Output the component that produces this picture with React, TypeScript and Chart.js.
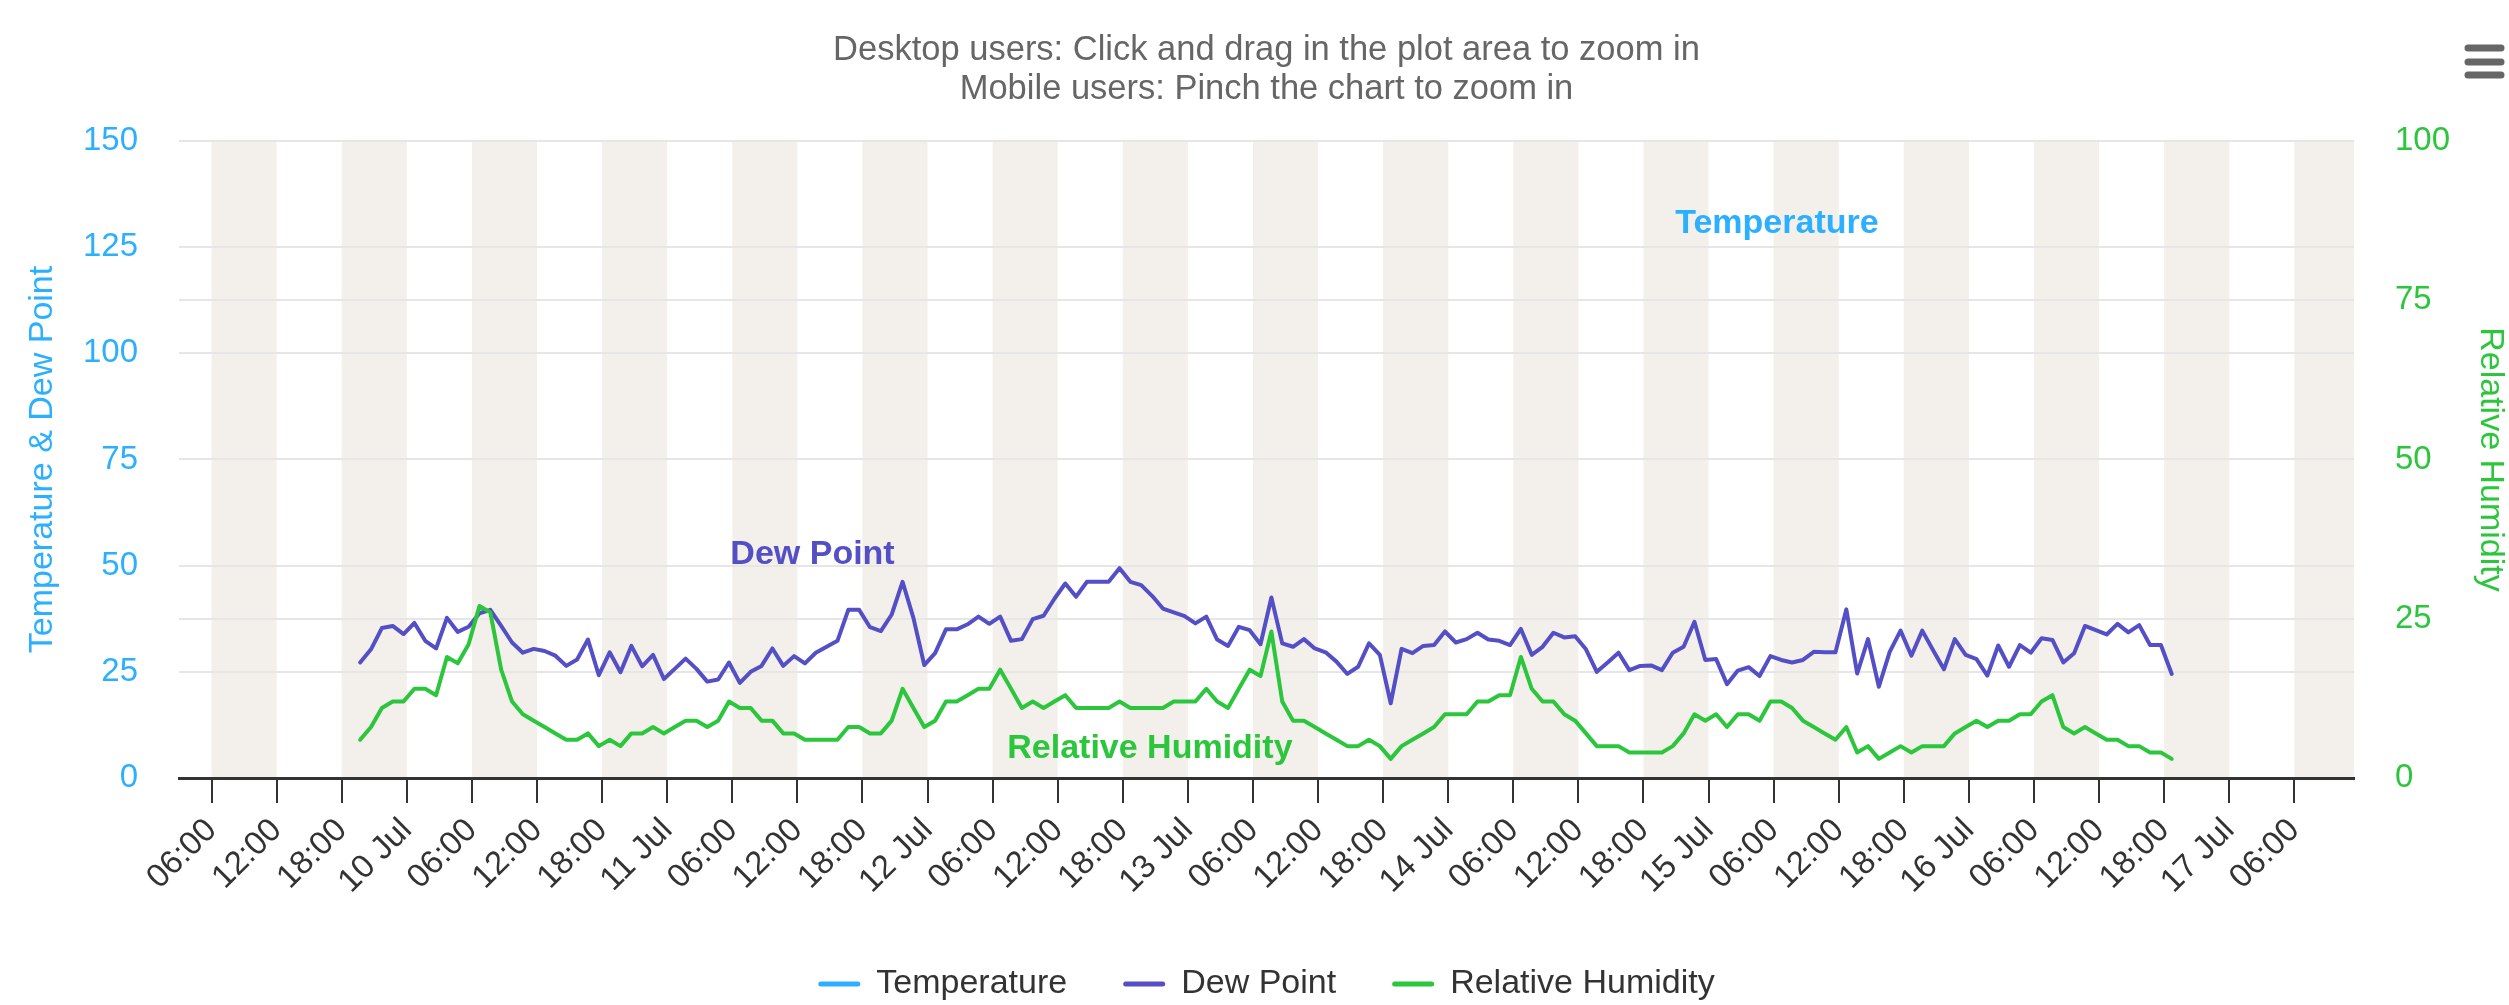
import React, { useEffect, useRef } from "react";
import { Chart, registerables } from "chart.js";

Chart.register(...registerables);

const FONT = "'Liberation Sans', Arial, Helvetica, sans-serif";

const titleLines = [
  "Desktop users: Click and drag in the plot area to zoom in",
  "Mobile users: Pinch the chart to zoom in",
];

const seriesNames = ["Temperature", "Dew Point", "Relative Humidity"];
const seriesColors = ["#2caffe", "#544fc5", "#2bc63c"];

// hours counted from 10 Jul 00:00; first reading 9 Jul 19:42, hourly after that
const firstReadingHour = -4.3;

const temperature: number[] = [];

const dewPoint = [
  27.2, 30.3, 35.3, 35.8, 33.9, 36.5, 32.3, 30.5, 37.7, 34.4,
  35.6, 38.8, 39.6, 35.8, 31.9, 29.5, 30.4, 29.9, 28.8, 26.4,
  27.9, 32.6, 24.2, 29.6, 24.9, 31.1, 26.3, 29.0, 23.3, 25.7,
  28.1, 25.7, 22.7, 23.2, 27.2, 22.4, 25.0, 26.4, 30.5, 26.4,
  28.7, 27.0, 29.5, 30.9, 32.3, 39.6, 39.6, 35.5, 34.6, 38.5,
  46.2, 37.7, 26.6, 29.4, 35.0, 35.0, 36.2, 38.0, 36.3, 38.0,
  32.3, 32.7, 37.4, 38.2, 42.2, 45.8, 42.7, 46.2, 46.2, 46.2,
  49.4, 46.2, 45.4, 42.9, 39.9, 39.0, 38.1, 36.4, 38.0, 32.6,
  31.1, 35.6, 34.8, 31.5, 42.5, 31.7, 30.9, 32.7, 30.5, 29.6,
  27.4, 24.5, 26.2, 31.7, 29.0, 17.6, 30.4, 29.4, 31.1, 31.3,
  34.5, 31.9, 32.7, 34.2, 32.6, 32.3, 31.3, 35.1, 29.0, 30.9,
  34.2, 33.1, 33.4, 30.3, 25.0, 27.2, 29.5, 25.4, 26.4, 26.5,
  25.4, 29.5, 30.9, 36.8, 27.8, 28.0, 22.1, 25.3, 26.1, 24.0,
  28.7, 27.8, 27.2, 27.8, 29.7, 29.6, 29.6, 39.7, 24.6, 32.7,
  21.5, 29.7, 34.7, 28.8, 34.7, 30.1, 25.6, 32.7, 29.0, 28.0,
  24.1, 31.2, 26.2, 31.3, 29.5, 32.9, 32.5, 27.2, 29.4, 35.8,
  34.8, 33.8, 36.3, 34.3, 36.0, 31.3, 31.3, 24.5,
];

const relativeHumidity = [
  6, 8, 11, 12, 12, 14, 14, 13, 19, 18,
  21, 27, 26, 17, 12, 10, 9, 8, 7, 6,
  6, 7, 5, 6, 5, 7, 7, 8, 7, 8,
  9, 9, 8, 9, 12, 11, 11, 9, 9, 7,
  7, 6, 6, 6, 6, 8, 8, 7, 7, 9,
  14, 11, 8, 9, 12, 12, 13, 14, 14, 17,
  14, 11, 12, 11, 12, 13, 11, 11, 11, 11,
  12, 11, 11, 11, 11, 12, 12, 12, 14, 12,
  11, 14, 17, 16, 23, 12, 9, 9, 8, 7,
  6, 5, 5, 6, 5, 3, 5, 6, 7, 8,
  10, 10, 10, 12, 12, 13, 13, 19, 14, 12,
  12, 10, 9, 7, 5, 5, 5, 4, 4, 4,
  4, 5, 7, 10, 9, 10, 8, 10, 10, 9,
  12, 12, 11, 9, 8, 7, 6, 8, 4, 5,
  3, 4, 5, 4, 5, 5, 5, 7, 8, 9,
  8, 9, 9, 10, 10, 12, 13, 8, 7, 8,
  7, 6, 6, 5, 5, 4, 4, 3,
];

const xTickHours = [
  -18, -12, -6, 0, 6, 12, 18, 24, 30, 36, 42, 48, 54, 60, 66, 72, 78,
  84, 90, 96, 102, 108, 114, 120, 126, 132, 138, 144, 150, 156, 162, 168, 174,
];
const xTickLabels = [
  "06:00", "12:00", "18:00", "10 Jul", "06:00", "12:00", "18:00", "11 Jul",
  "06:00", "12:00", "18:00", "12 Jul", "06:00", "12:00", "18:00", "13 Jul",
  "06:00", "12:00", "18:00", "14 Jul", "06:00", "12:00", "18:00", "15 Jul",
  "06:00", "12:00", "18:00", "16 Jul", "06:00", "12:00", "18:00", "17 Jul", "06:00",
];
const leftTicks = [0, 25, 50, 75, 100, 125, 150];
const rightTicks = [0, 25, 50, 75, 100];
const xRange = { min: -21, max: 179.5 };

// where the in-plot series labels sit (data units)
const seriesLabelAnchors = [
  { x: 126.3, y: 130.5, axis: "y" },
  { x: 37.4, y: 52.5, axis: "y" },
  { x: 68.5, y: 4.55, axis: "y1" },
];

const bandPlugin = {
  id: "bands",
  beforeDraw(chart: any) {
    const { ctx, chartArea } = chart;
    const xs = chart.scales.x;
    ctx.save();
    ctx.beginPath();
    ctx.rect(chartArea.left, chartArea.top, chartArea.right - chartArea.left, chartArea.bottom - chartArea.top);
    ctx.clip();
    ctx.fillStyle = "#f3f0eb";
    for (let i = 0; i < xTickHours.length; i += 2) {
      const a = xs.getPixelForValue(xTickHours[i]);
      const b = xs.getPixelForValue(xTickHours[i] + 6);
      ctx.fillRect(a, chartArea.top, b - a, chartArea.bottom - chartArea.top);
    }
    ctx.restore();
  },
};

const overlayPlugin = {
  id: "overlay",
  afterDraw(chart: any) {
    const { ctx, chartArea } = chart;
    ctx.save();
    // menu icon
    ctx.strokeStyle = "#666666";
    ctx.lineWidth = 7;
    ctx.lineCap = "round";
    [48, 62, 75].forEach((y) => {
      ctx.beginPath();
      ctx.moveTo(2468, y);
      ctx.lineTo(2501, y);
      ctx.stroke();
    });
    // series labels
    ctx.font = `bold 34px ${FONT}`;
    ctx.textAlign = "center";
    ctx.textBaseline = "middle";
    seriesLabelAnchors.forEach((a, i) => {
      const px = chart.scales.x.getPixelForValue(a.x);
      const py = chart.scales[a.axis].getPixelForValue(a.y);
      ctx.fillStyle = seriesColors[i];
      ctx.fillText(seriesNames[i], px, py);
    });
    // legend
    ctx.font = `34px ${FONT}`;
    ctx.textAlign = "left";
    const sym = 42, gapSym = 16, gapItem = 56;
    const widths = seriesNames.map((n) => ctx.measureText(n).width);
    const total = widths.reduce((s, w) => s + sym + gapSym + w, 0) + gapItem * (seriesNames.length - 1);
    let x = (chartArea.left + chartArea.right) / 2 - total / 2;
    const ly = 984;
    seriesNames.forEach((n, i) => {
      ctx.strokeStyle = seriesColors[i];
      ctx.lineWidth = 5;
      ctx.lineCap = "round";
      ctx.beginPath();
      ctx.moveTo(x + 2.5, ly);
      ctx.lineTo(x + sym - 2.5, ly);
      ctx.stroke();
      ctx.fillStyle = "#333333";
      ctx.fillText(n, x + sym + gapSym, ly);
      x += sym + gapSym + widths[i] + gapItem;
    });
    ctx.restore();
  },
};

export default function App() {
  const ref = useRef<HTMLCanvasElement | null>(null);
  useEffect(() => {
    if (!ref.current) return;
    const toPoints = (arr: number[]) => arr.map((v, i) => ({ x: firstReadingHour + i, y: v }));
    const lineStyle = {
      pointRadius: 0,
      pointHoverRadius: 0,
      borderWidth: 4,
      tension: 0,
      borderJoinStyle: "round" as const,
      borderCapStyle: "round" as const,
      fill: false,
    };
    const chart = new Chart(ref.current, {
      type: "line",
      data: {
        datasets: [
          { label: seriesNames[0], data: toPoints(temperature), borderColor: seriesColors[0], backgroundColor: seriesColors[0], yAxisID: "y", order: 2, ...lineStyle },
          { label: seriesNames[1], data: toPoints(dewPoint), borderColor: seriesColors[1], backgroundColor: seriesColors[1], yAxisID: "y", order: 1, ...lineStyle },
          { label: seriesNames[2], data: toPoints(relativeHumidity), borderColor: seriesColors[2], backgroundColor: seriesColors[2], yAxisID: "y1", order: 0, ...lineStyle },
        ],
      },
      options: {
        animation: false,
        responsive: true,
        maintainAspectRatio: false,
        devicePixelRatio: 1,
        layout: { padding: 0 },
        plugins: {
          legend: { display: false },
          tooltip: { enabled: false },
          title: {
            display: true,
            text: titleLines,
            color: "#666666",
            fullSize: false,
            font: { size: 34.5, family: FONT, weight: "normal", lineHeight: 1.13 },
            padding: { top: 31, bottom: 32 },
          },
        },
        scales: {
          x: {
            type: "linear",
            min: xRange.min,
            max: xRange.max,
            afterBuildTicks: (s: any) => {
              s.ticks = xTickHours.map((v) => ({ value: v }));
            },
            afterFit: (s: any) => {
              s.height = 227;
            },
            grid: { drawOnChartArea: false, drawTicks: true, tickLength: 25, color: "#333333", lineWidth: 2 },
            border: { display: true, color: "#333333", width: 3 },
            ticks: {
              autoSkip: false,
              minRotation: 45,
              maxRotation: 45,
              padding: 8,
              color: "#333333",
              font: { size: 33, family: FONT },
              callback: (v: any) => xTickLabels[xTickHours.indexOf(Number(v))] ?? "",
            },
          },
          y: {
            position: "left",
            min: 0,
            max: 150,
            afterBuildTicks: (s: any) => {
              s.ticks = leftTicks.map((v) => ({ value: v }));
            },
            afterFit: (s: any) => {
              s.width = 179;
            },
            grid: { color: "#e6e6e6", lineWidth: 2, drawTicks: false },
            border: { display: false },
            ticks: { color: seriesColors[0], padding: 41, font: { size: 33, family: FONT } },
            title: {
              display: true,
              text: "Temperature & Dew Point",
              color: seriesColors[0],
              font: { size: 34, family: FONT, lineHeight: 1 },
              padding: { top: 26, bottom: 0 },
            },
          },
          y1: {
            position: "right",
            min: 0,
            max: 100,
            afterBuildTicks: (s: any) => {
              s.ticks = rightTicks.map((v) => ({ value: v }));
            },
            afterFit: (s: any) => {
              s.width = 155;
            },
            grid: { color: "#e6e6e6", lineWidth: 2, drawTicks: false },
            border: { display: false },
            ticks: { color: seriesColors[2], padding: 41, font: { size: 33, family: FONT } },
            title: {
              display: true,
              text: "Relative Humidity",
              color: seriesColors[2],
              font: { size: 34, family: FONT, lineHeight: 1 },
              padding: { top: 2, bottom: 0 },
            },
          },
        },
      } as any,
      plugins: [bandPlugin, overlayPlugin],
    });
    return () => chart.destroy();
  }, []);

  return (
    <div style={{ position: "fixed", left: 0, top: 0, width: 2509, height: 1005, background: "#ffffff" }}>
      <canvas ref={ref} />
    </div>
  );
}
